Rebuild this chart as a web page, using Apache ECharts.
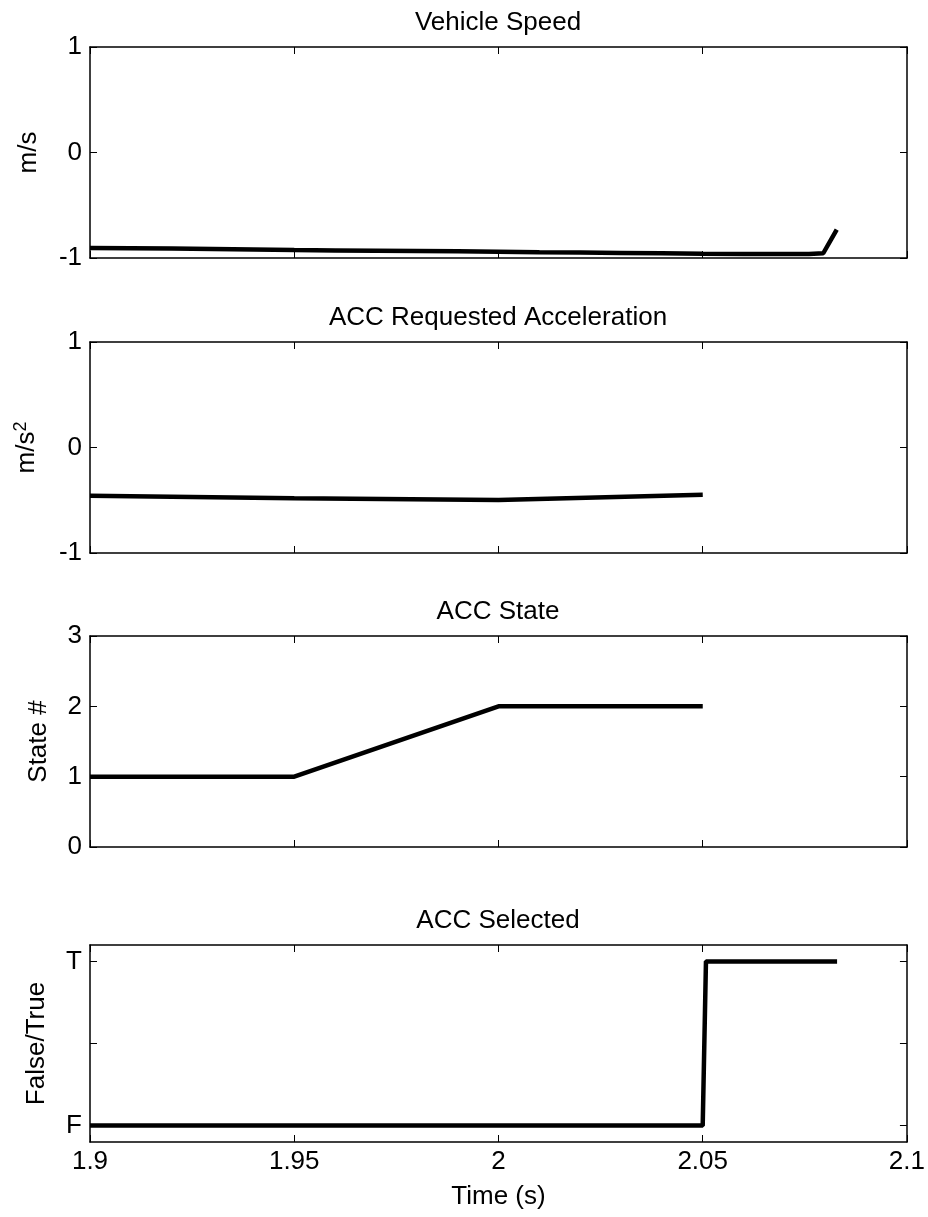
<!DOCTYPE html>
<html>
<head>
<meta charset="utf-8">
<script src="https://cdn.jsdelivr.net/npm/echarts@6/dist/echarts.min.js"></script>
<style>
  html, body { margin: 0; padding: 0; background: #fff; }
  #main { width: 928px; height: 1217px; }
</style>
</head>
<body>
<div id="main"></div>
<script>
// 数据
var titles = ['Vehicle Speed', 'ACC Requested Acceleration', 'ACC State', 'ACC Selected']
var yNames = ['m/s', 'm/s{sup|2}', 'State #', 'False/True']
var xTicks = [1.9, 1.95, 2, 2.05, 2.1]

var speedTime = [1.9, 1.91, 1.92, 1.93, 1.94, 1.95, 1.96, 1.97, 1.98, 1.99, 2.0, 2.01, 2.02, 2.03, 2.04, 2.05, 2.06, 2.07, 2.076, 2.0795, 2.0828]
var speedVal = [-0.905, -0.907, -0.91, -0.915, -0.92, -0.925, -0.928, -0.931, -0.934, -0.937, -0.94, -0.945, -0.948, -0.952, -0.956, -0.96, -0.963, -0.963, -0.962, -0.955, -0.73]

var accelTime = [1.9, 1.95, 2.0, 2.05]
var accelVal = [-0.457, -0.48, -0.497, -0.447]

var stateTime = [1.9, 1.95, 2.0, 2.05]
var stateVal = [1, 1, 2, 2]

var selTime = [1.9, 2.05, 2.0508, 2.0829]
var selVal = [0, 0, 1, 1]

var FONT = '"Liberation Sans", Arial, sans-serif'
var FS = 26

var grids = [
  { left: 90, right: 21, top: 47, height: 211 },
  { left: 90, right: 21, top: 342, height: 211 },
  { left: 90, right: 21, top: 636, height: 211 },
  { left: 90, right: 21, top: 945, height: 197 }
]
var yRanges = [
  { min: -1, max: 1, interval: 1 },
  { min: -1, max: 1, interval: 1 },
  { min: 0, max: 3, interval: 1 },
  { min: -0.1, max: 1.1 }
]
var nameGaps = [48, 48, 38, 40]

function pairs (xs, ys) {
  return xs.map(function (x, i) { return [x, ys[i]] })
}

var lineStyle = { color: '#000', width: 1.5 }
var tickStyle = { show: true, inside: true, length: 7, lineStyle: { color: '#000', width: 1 } }

var xAxis = []
var yAxis = []
grids.forEach(function (g, i) {
  var last = i === 3
  // 下方x轴
  xAxis.push({
    gridIndex: i, type: 'value', min: 1.9, max: 2.1, interval: 0.05,
    position: 'bottom',
    axisLine: { show: true, onZero: false, lineStyle: lineStyle },
    axisTick: tickStyle,
    splitLine: { show: false },
    axisLabel: {
      show: last, color: '#000', fontFamily: FONT, fontSize: FS, margin: 7,
      formatter: function (v) { return String(Math.round(v * 100) / 100) }
    },
    name: last ? 'Time (s)' : '',
    nameLocation: 'middle', nameGap: 42,
    nameTextStyle: { color: '#000', fontFamily: FONT, fontSize: FS }
  })
  // 上方x轴（只画刻度）
  xAxis.push({
    gridIndex: i, type: 'value', min: 1.9, max: 2.1, interval: 0.05,
    position: 'top',
    axisLine: { show: true, onZero: false, lineStyle: lineStyle },
    axisTick: tickStyle,
    splitLine: { show: false },
    axisLabel: { show: false }
  })
  var r = yRanges[i]
  var left = {
    gridIndex: i, type: 'value', min: r.min, max: r.max, position: 'left',
    axisLine: { show: true, onZero: false, lineStyle: lineStyle },
    axisTick: tickStyle,
    splitLine: { show: false },
    axisLabel: { color: '#000', fontFamily: FONT, fontSize: FS, margin: 8 },
    name: yNames[i], nameLocation: 'middle', nameRotate: 90, nameGap: nameGaps[i],
    nameTextStyle: {
      color: '#000', fontFamily: FONT, fontSize: FS,
      rich: { sup: { fontSize: 18, verticalAlign: 'top', color: '#000', fontFamily: FONT, padding: [0, 0, 12, 0] } }
    }
  }
  var right = {
    gridIndex: i, type: 'value', min: r.min, max: r.max, position: 'right',
    axisLine: { show: true, onZero: false, lineStyle: lineStyle },
    axisTick: tickStyle,
    splitLine: { show: false },
    axisLabel: { show: false }
  }
  if (last) {
    left.axisTick = Object.assign({}, tickStyle, { customValues: [0, 0.5, 1] })
    left.axisLabel.customValues = [0, 1]
    left.axisLabel.formatter = function (v) { return v === 0 ? 'F' : 'T' }
    right.axisTick = Object.assign({}, tickStyle, { customValues: [0, 0.5, 1] })
    right.axisLabel = { show: false, customValues: [0, 0.5, 1] }
  } else {
    left.interval = r.interval
    right.interval = r.interval
  }
  yAxis.push(left, right)
})

var seriesData = [
  pairs(speedTime, speedVal),
  pairs(accelTime, accelVal),
  pairs(stateTime, stateVal),
  pairs(selTime, selVal)
]

var chart = echarts.init(document.getElementById('main'), null, { renderer: 'canvas' })
chart.setOption({
  backgroundColor: '#fff',
  animation: false,
  title: titles.map(function (t, i) {
    return {
      text: t, left: 493, top: grids[i].top - 42, textAlign: 'center',
      textStyle: { color: '#000', fontFamily: FONT, fontSize: FS, fontWeight: 'normal' }
    }
  }),
  grid: grids,
  xAxis: xAxis,
  yAxis: yAxis,
  series: seriesData.map(function (d, i) {
    return {
      type: 'line', xAxisIndex: i * 2, yAxisIndex: i * 2,
      data: d, showSymbol: false, symbol: 'none',
      lineStyle: { color: '#000', width: 4.5 },
      clip: false
    }
  })
})
</script>
</body>
</html>
